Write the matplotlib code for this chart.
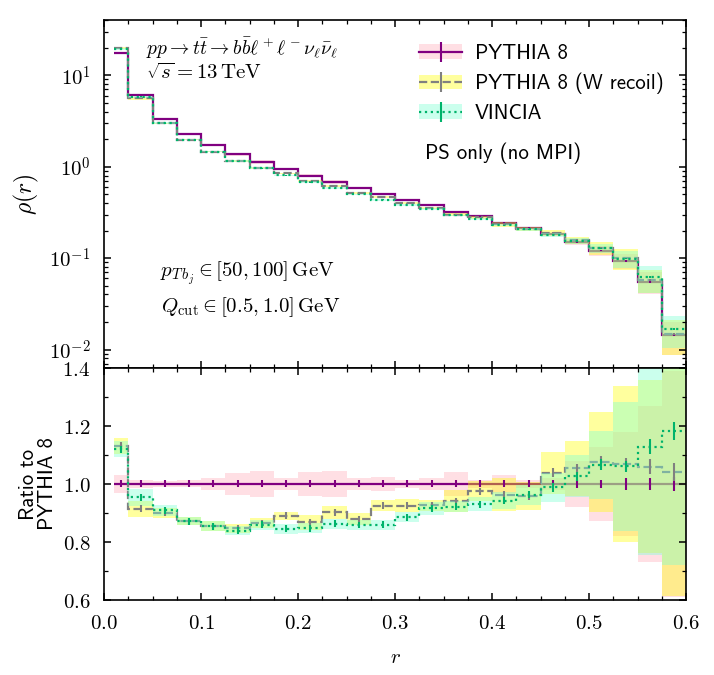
import numpy as np
import matplotlib
matplotlib.use('Agg')
import matplotlib.pyplot as plt
from matplotlib.patches import Patch
from matplotlib.lines import Line2D
from matplotlib.ticker import MultipleLocator, FuncFormatter, LogLocator

plt.rcParams['mathtext.fontset'] = 'cm'
plt.rcParams['axes.linewidth'] = 1.2
plt.rcParams['axes.unicode_minus'] = False

# bin edges in r
edges = [0.01, 0.025, 0.05, 0.075, 0.1, 0.125, 0.15, 0.175, 0.2, 0.225, 0.25, 0.275,
         0.3, 0.325, 0.35, 0.375, 0.4, 0.425, 0.45, 0.475, 0.5, 0.525, 0.55, 0.575, 0.6]

# rho(r), PYTHIA 8 reference
rho_p8 = [17.5, 6.1, 3.3, 2.26, 1.71, 1.37, 1.12, 0.95, 0.80, 0.676, 0.58, 0.505,
          0.43, 0.38, 0.318, 0.288, 0.244, 0.215, 0.182, 0.150, 0.120, 0.093, 0.055, 0.0143]
# rho(r), PYTHIA 8 (W recoil)
rho_wrec = [19.8, 5.58, 2.97, 1.97, 1.46, 1.16, 0.968, 0.846, 0.694, 0.610, 0.510, 0.467,
            0.398, 0.352, 0.299, 0.281, 0.235, 0.206, 0.189, 0.158, 0.129, 0.0994, 0.0583, 0.0149]
# rho(r), VINCIA
rho_vin = [19.6, 5.82, 3.00, 1.97, 1.46, 1.15, 0.962, 0.803, 0.678, 0.583, 0.498, 0.434,
           0.381, 0.348, 0.293, 0.268, 0.230, 0.207, 0.180, 0.154, 0.128, 0.0986, 0.0621, 0.0169]

# relative uncertainty bands (half widths)
band_p8 = [0.03, 0.015, 0.01, 0.012, 0.02, 0.037, 0.045, 0.02, 0.04, 0.045, 0.02, 0.025,
           0.015, 0.02, 0.04, 0.015, 0.03, 0.015, 0.02, 0.08, 0.128, 0.18, 0.27, 0.39]
band_wrec = [0.025, 0.03, 0.02, 0.015, 0.02, 0.02, 0.02, 0.015, 0.03, 0.025, 0.025, 0.02,
             0.025, 0.02, 0.04, 0.035, 0.06, 0.05, 0.07, 0.09, 0.16, 0.25, 0.28, 0.41]
band_vin = [0.025, 0.03, 0.02, 0.015, 0.02, 0.02, 0.02, 0.02, 0.02, 0.02, 0.02, 0.02,
            0.02, 0.025, 0.02, 0.025, 0.03, 0.035, 0.05, 0.07, 0.11, 0.21, 0.33, 0.39]

# relative statistical errors (error bars)
err_p8 = [0.012, 0.012, 0.012, 0.012, 0.012, 0.012, 0.012, 0.012, 0.012, 0.012, 0.012, 0.012,
          0.012, 0.012, 0.012, 0.012, 0.012, 0.012, 0.012, 0.015, 0.015, 0.02, 0.02, 0.025]
err_wrec = [0.012, 0.012, 0.012, 0.012, 0.012, 0.012, 0.012, 0.012, 0.012, 0.012, 0.012, 0.012,
            0.012, 0.012, 0.012, 0.012, 0.012, 0.012, 0.015, 0.015, 0.02, 0.02, 0.025, 0.03]
err_vin = [0.012, 0.012, 0.012, 0.012, 0.012, 0.012, 0.012, 0.012, 0.012, 0.012, 0.012, 0.012,
           0.012, 0.012, 0.012, 0.012, 0.012, 0.012, 0.015, 0.015, 0.02, 0.02, 0.025, 0.03]

labels = ['PYTHIA 8', 'PYTHIA 8 (W recoil)', 'VINCIA']

edges = np.array(edges)
centers = 0.5 * (edges[1:] + edges[:-1])
ref = np.array(rho_p8)

series = [
    (rho_p8, band_p8, err_p8, '#800080', '-', '#ffc0cb', 0.5),
    (rho_wrec, band_wrec, err_wrec, 'grey', '--', '#ffff00', 0.38),
    (rho_vin, band_vin, err_vin, '#00b36b', ':', '#7fffd4', 0.4),
]

fig = plt.figure(figsize=(7.14, 6.75), dpi=100)
ax = fig.add_axes([0.146, 0.455, 0.815, 0.515])
axr = fig.add_axes([0.146, 0.111, 0.815, 0.344], sharex=ax)

handles = []
for vals, band, err, col, ls, bcol, alpha in series:
    vals = np.array(vals)
    band = np.array(band)
    err = np.array(err)
    ratio = vals / ref
    # top panel
    ax.stairs(vals * (1 + band), edges, baseline=vals * (1 - band), fill=True,
              color=bcol, alpha=alpha, lw=0)
    ax.stairs(vals, edges, baseline=None, color=col, ls=ls, lw=1.6)
    ax.errorbar(centers, vals, yerr=vals * err, fmt='none', ecolor=col, elinewidth=1.5)
    # ratio panel
    axr.stairs(ratio * (1 + band), edges, baseline=ratio * (1 - band), fill=True,
               color=bcol, alpha=alpha, lw=0)
    axr.stairs(ratio, edges, baseline=None, color=col, ls=ls, lw=1.6)
    axr.errorbar(centers, ratio, yerr=err, fmt='none', ecolor=col, elinewidth=1.5)
    handles.append((Patch(facecolor=bcol, alpha=alpha, lw=0),
                    Line2D([], [], color=col, ls=ls, lw=1.6, marker='|',
                           markersize=15, markeredgewidth=1.5)))

ax.set_yscale('log')
ax.set_ylim(0.0063, 40)
ax.set_xlim(0.0, 0.6)
axr.set_ylim(0.6, 1.4)
ax.yaxis.set_major_locator(LogLocator(base=10))
ax.yaxis.set_minor_locator(LogLocator(base=10, subs=np.arange(2, 10), numticks=20))
ax.yaxis.set_major_formatter(FuncFormatter(lambda v, p: r'$10^{%d}$' % round(np.log10(v))))

for a in (ax, axr):
    a.tick_params(which='both', direction='in', top=True, right=True, labelsize=15)
    a.tick_params(which='major', length=5, width=1.1)
    a.tick_params(which='minor', length=3, width=0.9)
    a.tick_params(axis='y', pad=10)
    a.tick_params(axis='x', pad=9)
ax.tick_params(labelbottom=False)

axr.xaxis.set_major_locator(MultipleLocator(0.1))
axr.xaxis.set_minor_locator(MultipleLocator(0.025))
axr.yaxis.set_major_locator(MultipleLocator(0.2))
axr.yaxis.set_minor_locator(MultipleLocator(0.1))
fmt = FuncFormatter(lambda v, p: '$%.1f$' % v)
axr.xaxis.set_major_formatter(fmt)
axr.yaxis.set_major_formatter(fmt)

ax.set_ylabel(r'$\rho(r)$', fontsize=17)
ax.yaxis.set_label_coords(-0.108, 0.5)
axr.set_ylabel('Ratio to\nPYTHIA 8', fontsize=15, family='cmss10', linespacing=1.0)
axr.yaxis.set_label_coords(-0.081, 0.5)
axr.set_xlabel(r'$r$', fontsize=15)
axr.xaxis.set_label_coords(0.5, -0.2)

ax.text(0.072, 0.92, r'$pp \to t\bar{t} \to b\bar{b}\ell^+\ell^-\nu_\ell\bar{\nu}_\ell$',
        transform=ax.transAxes, fontsize=14, va='center')
ax.text(0.072, 0.848, r'$\sqrt{s} = 13\,\mathrm{TeV}$',
        transform=ax.transAxes, fontsize=15, va='center')
ax.text(0.095, 0.273, r'$p_{T\,b_j} \in [50, 100]\,\mathrm{GeV}$',
        transform=ax.transAxes, fontsize=15, va='center')
ax.text(0.097, 0.175, r'$Q_{\mathrm{cut}} \in [0.5, 1.0]\,\mathrm{GeV}$',
        transform=ax.transAxes, fontsize=15, va='center')
ax.text(0.551, 0.618, 'PS only (no MPI)', transform=ax.transAxes, fontsize=15,
        family='cmss10', va='center')

ax.legend(handles, labels, loc='upper left', bbox_to_anchor=(0.526, 0.956),
          frameon=False, prop={'family': 'cmss10', 'size': 15}, handlelength=2.1,
          handletextpad=0.6, borderaxespad=0, labelspacing=0.47)

fig.savefig('out.png', dpi=100)
